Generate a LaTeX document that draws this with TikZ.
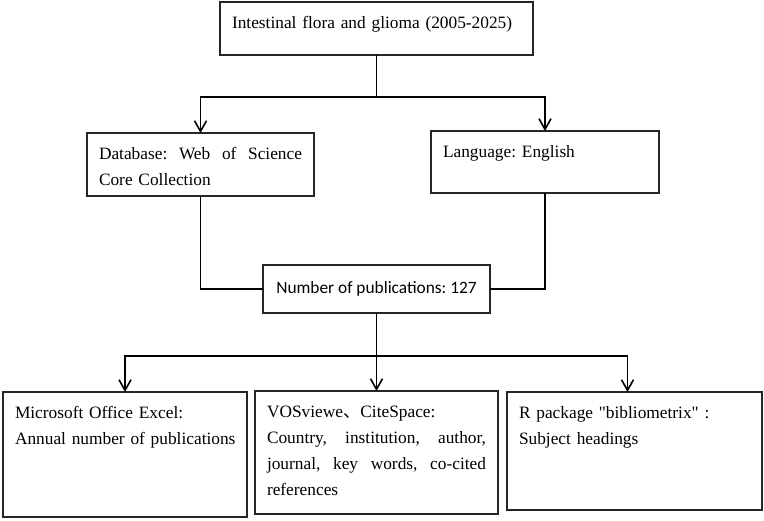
\documentclass[tikz,border=0pt]{standalone}
\usepackage{fontspec}
\setmainfont{Liberation Serif}
\newfontfamily\rawserif{Liberation Serif}
\newfontfamily\calibrifont{Carlito}
\newfontfamily\cjkfont{Noto Sans CJK SC}
\usepackage{tikz}
\usetikzlibrary{positioning,arrows.meta}
\frenchspacing
\newcommand{\fullline}[1]{\leavevmode\hbox to\hsize{\spaceskip=.25em plus 1fil\relax #1}}

\begin{document}
\begin{tikzpicture}[x=0.75pt, y=-0.75pt,
    box/.style={rectangle, draw=black!85, line width=0.9pt, anchor=north west,
                inner xsep=9pt, inner ysep=0pt, outer sep=0pt, align=left,
                text height=19.5pt, font=\fontsize{13pt}{19.5pt}\selectfont},
    countbox/.style={rectangle, draw=black!85, line width=0.9pt, anchor=north west,
                inner sep=0pt, outer sep=0pt, minimum width=170.25pt, minimum height=36pt,
                font=\calibrifont\fontsize{13pt}{16pt}\selectfont},
    link/.style={line width=1.2pt, draw=black},
    arrow/.style={link, -{Straight Barb[length=8pt, width=9pt]}}
]
\useasboundingbox (0,0) rectangle (764,521);

\node[box, text width=216.75pt, text depth=20.25pt] (topic) at (220,2)
    {Intestinal flora and glioma (2005-2025)};
\node[box, text width=152.25pt, text depth=27.75pt] (db) at (87,133)
    {\fullline{Database: Web of Science}\\Core Collection};
\node[box, text width=153pt, text depth=27pt] (lang) at (431,131)
    {Language: English};
\node[countbox] (num) at (263,265) {Number of publications: 127};
\node[box, text width=165pt, text depth=74.25pt] (excel) at (3,392)
    {Microsoft Office Excel:\\\mbox{Annual number of publications}};
\node[box, text width=164.25pt, text depth=72.75pt] (vos) at (255,391)
    {VOSviewe{\cjkfont 、}CiteSpace:\\
     \fullline{Country, institution, author,}\\
     \fullline{journal, key words, co-cited}\\
     references};
\node[box, text width=173.25pt, text depth=69pt] (rpkg) at (507,392)
    {{\rawserif R package "bibliometrix" :}\\Subject headings};

\draw[arrow] (topic.south) -- ++(0,42) -| (db.north);
\draw[arrow] (topic.south) -- ++(0,42) -| (lang.north);
\draw[link] (db.south) |- (num.west);
\draw[link] (lang.south) |- (num.east);
\draw[arrow] (num.south) -- ++(0,43) -| (excel.north);
\draw[arrow] (num.south) -- ++(0,43) -| (vos.north);
\draw[arrow] (num.south) -- ++(0,43) -| ([xshift=-5.25pt]rpkg.north);

\end{tikzpicture}
\end{document}
